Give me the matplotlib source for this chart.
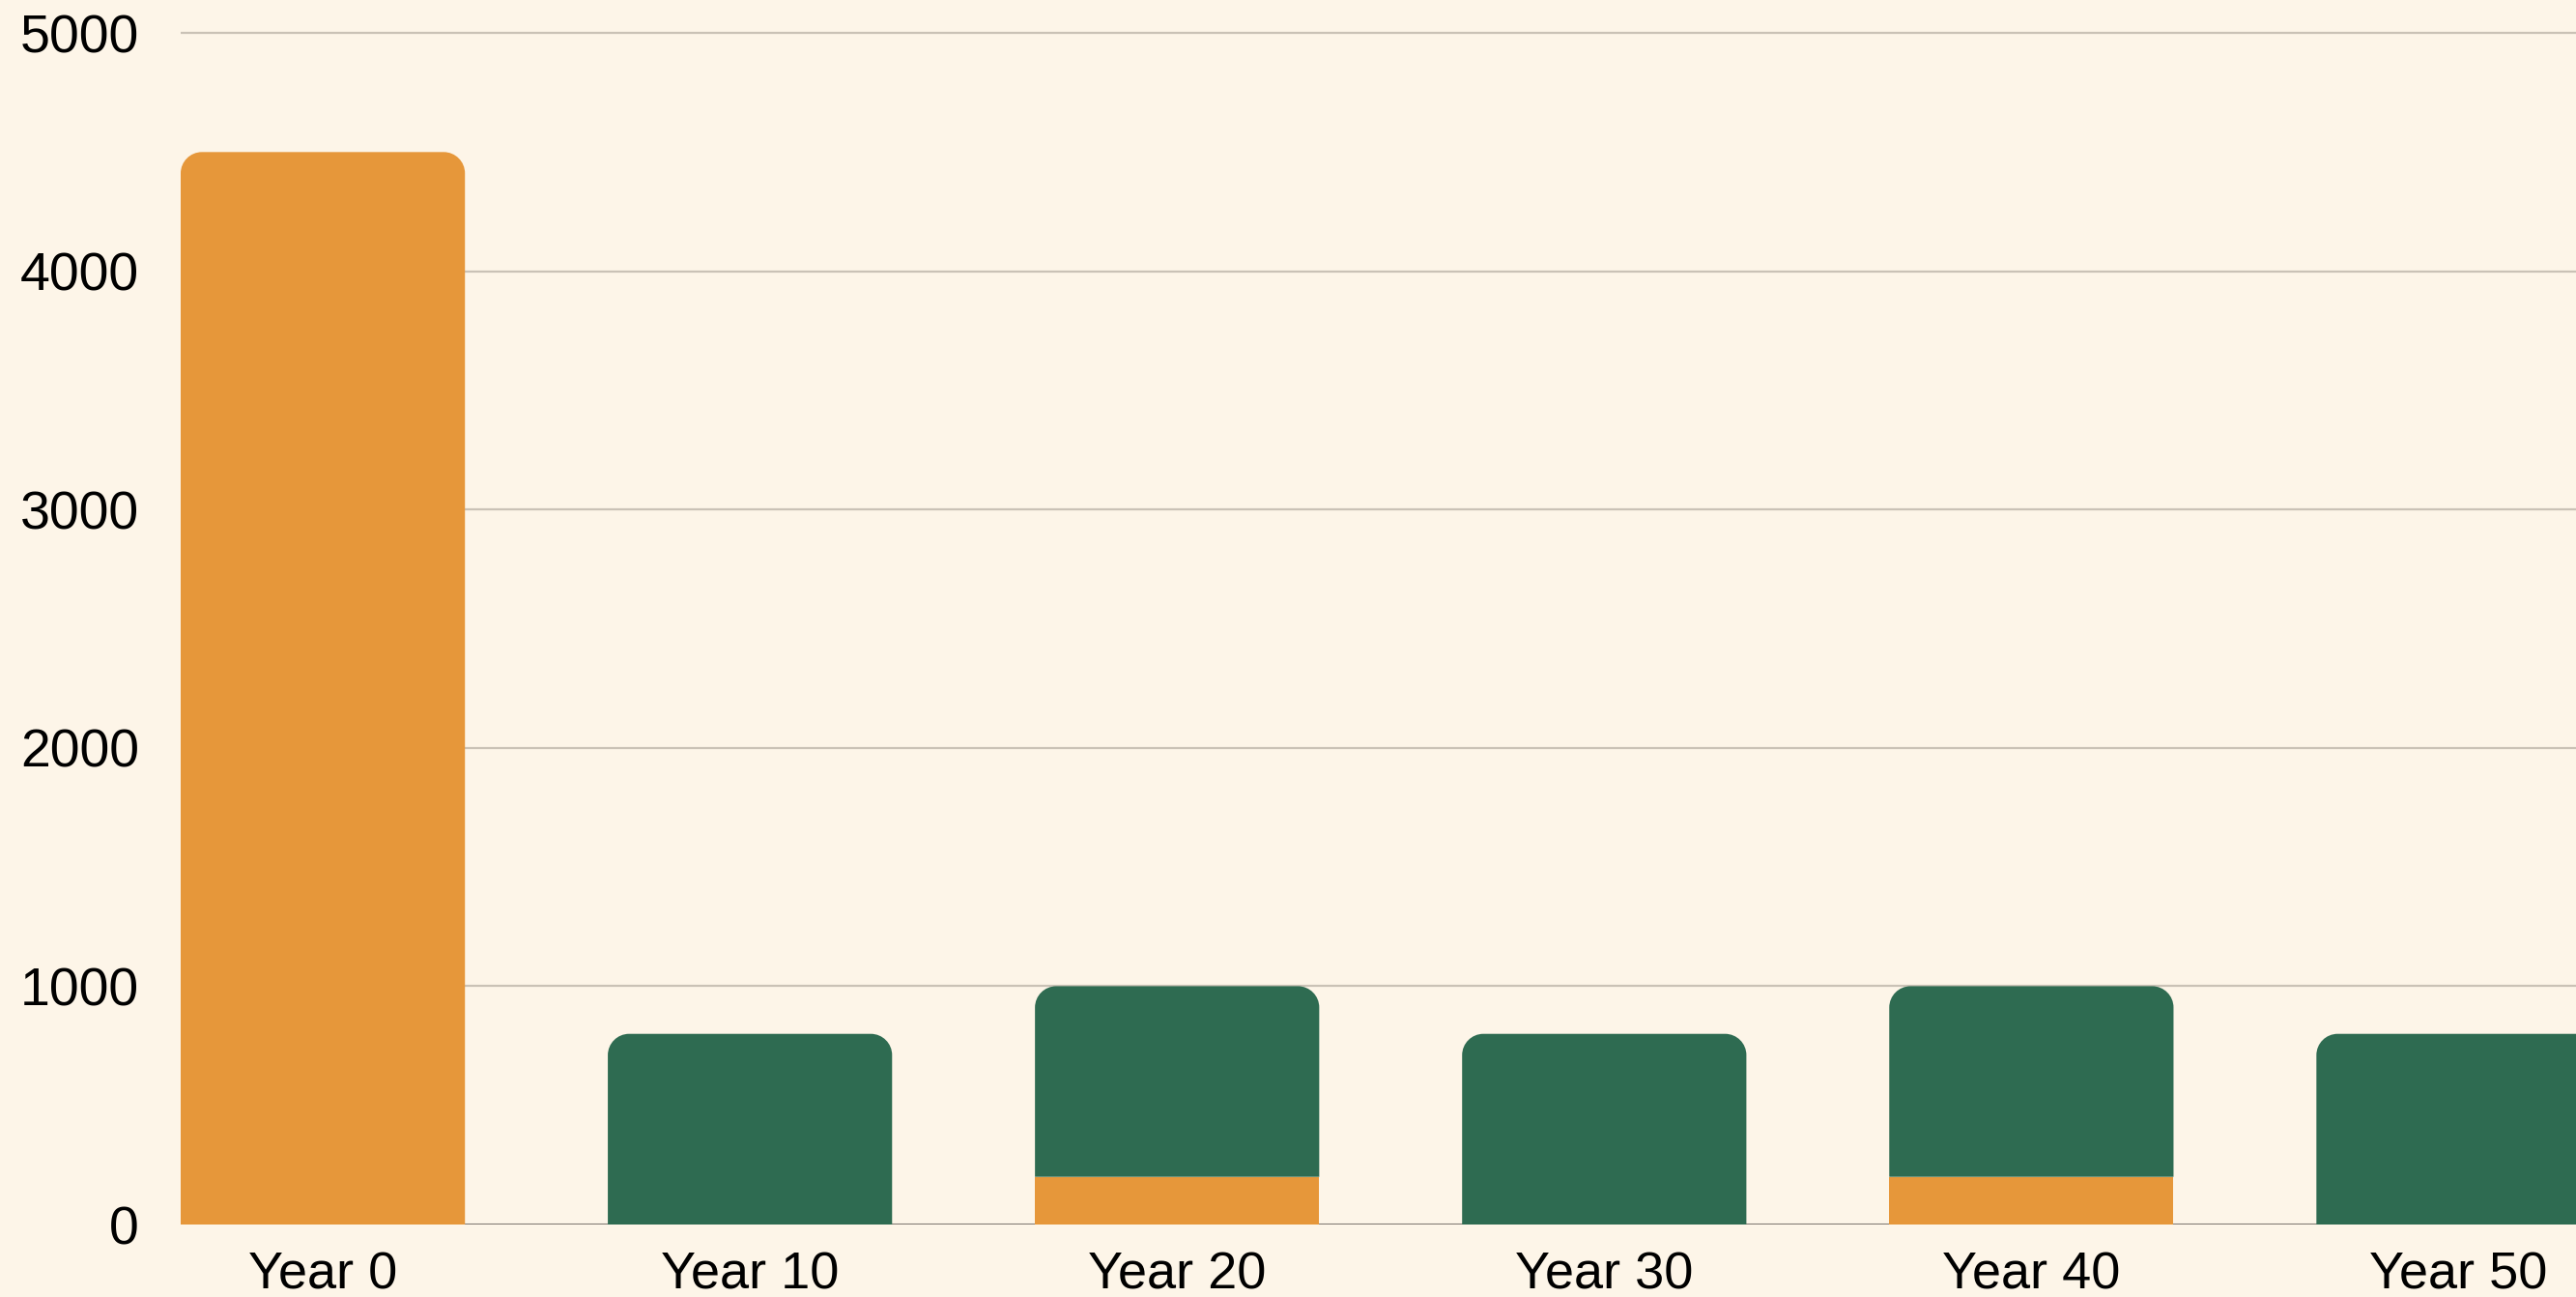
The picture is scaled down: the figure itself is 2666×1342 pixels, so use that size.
import numpy as np
import matplotlib.pyplot as plt
from matplotlib.path import Path
from matplotlib.patches import PathPatch

# ----------------------------
# Data
# ----------------------------
years = ["Year 0", "Year 10", "Year 20", "Year 30", "Year 40", "Year 50"]
orange_vals = [4500, 0, 200, 0, 200, 0]
green_vals = [0, 800, 800, 800, 800, 800]
y_ticks = [0, 1000, 2000, 3000, 4000, 5000]

BG = "#FDF5E8"
ORANGE = "#E6973A"
GREEN = "#2E6B51"
GRID = "#CAC2B6"
BASE = "#77716A"

plt.rcParams["font.family"] = ["Liberation Sans", "DejaVu Sans"]

W, H, DPI = 2666, 1342, 200
BAR_W = 0.6655
RADIUS_PX = 22
K = 0.5523  # aproximación bezier de un cuarto de círculo


def rounded_top(x0, y0, w, h, rx, ry):
    """Path de un rectángulo con esquinas superiores redondeadas (coords de datos)."""
    x1, y1 = x0 + w, y0 + h
    ry = min(ry, h)
    verts = [
        (x0, y0), (x0, y1 - ry),
        (x0, y1 - ry + K * ry), (x0 + rx - K * rx, y1), (x0 + rx, y1),
        (x1 - rx, y1),
        (x1 - rx + K * rx, y1), (x1, y1 - ry + K * ry), (x1, y1 - ry),
        (x1, y0), (x0, y0),
    ]
    codes = [
        Path.MOVETO, Path.LINETO,
        Path.CURVE4, Path.CURVE4, Path.CURVE4,
        Path.LINETO,
        Path.CURVE4, Path.CURVE4, Path.CURVE4,
        Path.LINETO, Path.CLOSEPOLY,
    ]
    return Path(verts, codes)


def main() -> None:
    fig = plt.figure(figsize=(W / DPI, H / DPI), dpi=DPI, facecolor=BG)
    left = 187 / W
    bottom = (H - 1267) / H
    ax = fig.add_axes([left, bottom, 1 - left, 1 - bottom])
    ax.set_facecolor(BG)

    x = np.arange(len(years))
    xlim = (-BAR_W / 2, 5.275)
    ylim = (0, 5138)
    ax.set_xlim(*xlim)
    ax.set_ylim(*ylim)

    # escala px -> datos para el radio de las esquinas
    ax_w_px = (1 - left) * W
    ax_h_px = (1 - bottom) * H
    rx = RADIUS_PX * (xlim[1] - xlim[0]) / ax_w_px
    ry = RADIUS_PX * (ylim[1] - ylim[0]) / ax_h_px

    b1 = ax.bar(x, orange_vals, width=BAR_W, color=ORANGE, zorder=3)
    b2 = ax.bar(x, green_vals, width=BAR_W, bottom=orange_vals, color=GREEN, zorder=3)

    # segmento superior de cada pila con esquinas redondeadas
    for i in range(len(years)):
        top = b2.patches[i] if green_vals[i] > 0 else b1.patches[i]
        top.set_visible(False)
        path = rounded_top(top.get_x(), top.get_y(), top.get_width(),
                           top.get_height(), rx, ry)
        ax.add_patch(PathPatch(path, facecolor=top.get_facecolor(),
                               edgecolor="none", zorder=3))

    ax.set_yticks(y_ticks)
    ax.set_xticks(x)
    ax.set_xticklabels(years)
    ax.tick_params(axis="both", length=0, colors="black")
    ax.tick_params(axis="y", pad=15.5, labelsize=20)
    ax.tick_params(axis="x", pad=10, labelsize=19.5)
    ax.yaxis.grid(True, color=GRID, linewidth=0.8, zorder=1)
    ax.set_axisbelow(True)
    ax.axhline(0, color=BASE, linewidth=1.0, zorder=2)
    for s in ax.spines.values():
        s.set_visible(False)

    fig.savefig("out.png", dpi=DPI, facecolor=BG)


if __name__ == "__main__":
    main()
